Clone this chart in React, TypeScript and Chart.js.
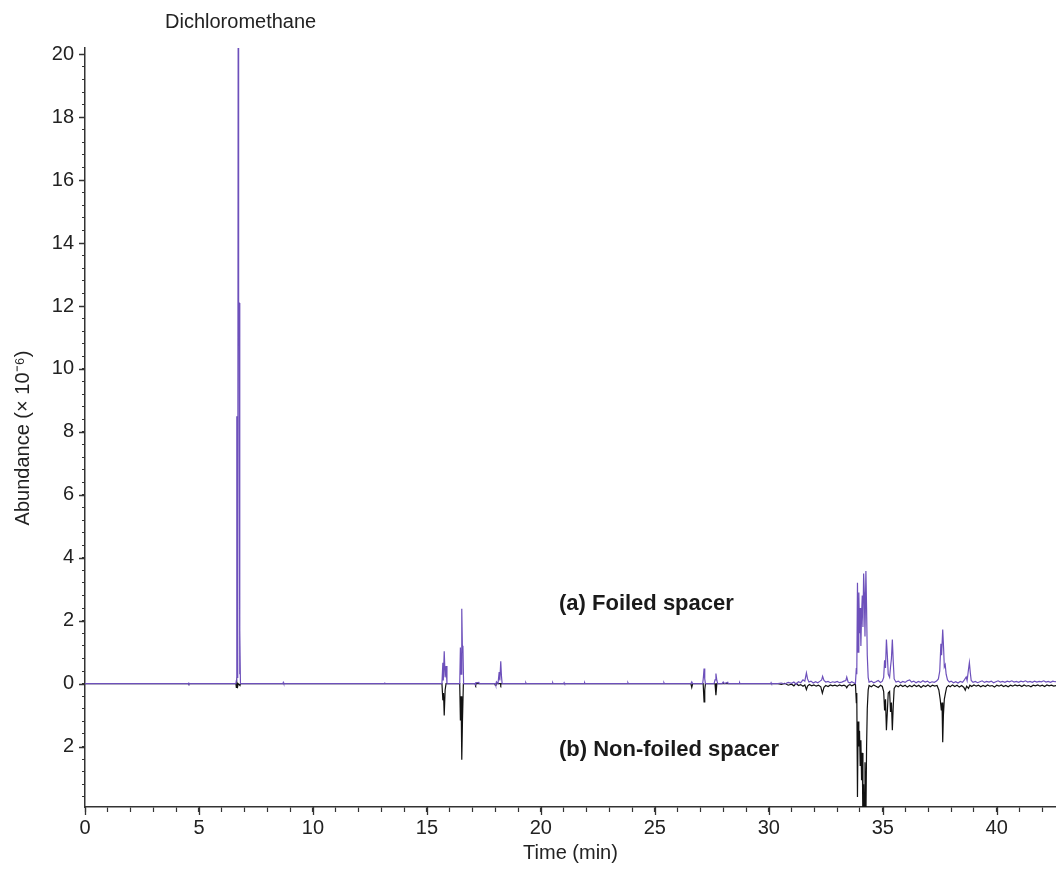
import React, { useEffect, useRef } from "react";
import { Chart, registerables } from "chart.js";

Chart.register(...registerables);

// (a) Foiled spacer — retention time (min) and abundance (× 10^-6)
const foiledTime = [
  0, 4.52, 4.54, 4.56, 4.58,
  6.62, 6.64, 6.66, 6.68, 6.70, 6.72, 6.74, 6.76, 6.78, 6.80, 6.82,
  8.68, 8.70, 8.72, 13.12, 13.14, 13.16,
  15.66, 15.70, 15.72, 15.76, 15.80, 15.84, 15.88,
  16.44, 16.47, 16.50, 16.53, 16.56, 16.58, 16.61,
  17.10, 17.12, 17.14, 17.28, 17.30,
  18.00, 18.02, 18.05, 18.12, 18.17, 18.20, 18.24, 18.27, 18.30,
  19.32, 19.34, 19.36, 20.50, 20.52, 20.54, 21.00, 21.02, 21.04, 21.90, 21.92, 21.94,
  23.80, 23.82, 23.84, 25.38, 25.40, 25.42,
  26.58, 26.62, 26.66, 27.10, 27.13, 27.16, 27.19, 27.22, 27.60, 27.64, 27.68, 27.72, 27.76,
  27.95, 28.00, 28.05, 28.20, 28.22, 28.70, 28.72, 28.74, 30.08, 30.10, 30.12,
  30.40, 30.55, 30.70, 30.85, 31.00, 31.10, 31.20, 31.30, 31.40, 31.50, 31.58, 31.65, 31.70, 31.76, 31.85, 31.95,
  32.05, 32.15, 32.25, 32.32, 32.36, 32.42, 32.50, 32.60, 32.70, 32.80, 32.90, 33.00, 33.10, 33.20, 33.30, 33.38,
  33.42, 33.48, 33.56, 33.64, 33.72, 33.80,
  33.84, 33.86, 33.89, 33.92, 33.95, 33.98, 34.01, 34.04, 34.07, 34.10, 34.13, 34.16, 34.19, 34.22, 34.26, 34.29,
  34.32, 34.36, 34.40, 34.50, 34.60, 34.70, 34.80, 34.90, 34.98, 35.04,
  35.08, 35.12, 35.16, 35.20, 35.24, 35.30, 35.34, 35.38, 35.42, 35.46, 35.50, 35.58, 35.68, 35.78, 35.88, 35.98,
  36.08, 36.18, 36.26, 36.36, 36.46, 36.56, 36.66, 36.76, 36.86, 36.96, 37.06, 37.16, 37.26, 37.36, 37.44,
  37.50, 37.55, 37.58, 37.63, 37.67, 37.70, 37.74, 37.78, 37.84, 37.92, 38.00, 38.10, 38.20, 38.30, 38.40, 38.50,
  38.58, 38.66, 38.70, 38.76, 38.80, 38.84, 38.88, 38.96, 39.06, 39.16, 39.26, 39.36, 39.46, 39.56, 39.66, 39.76,
  39.86, 39.96, 40.06, 40.16, 40.26, 40.36, 40.46, 40.56, 40.66, 40.76, 40.86, 40.96, 41.06, 41.16, 41.26, 41.36,
  41.46, 41.56, 41.66, 41.76, 41.86, 41.96, 42.06, 42.16, 42.26, 42.36, 42.46, 42.56, 42.70,
];
const foiledAbund = [
  0, 0, 0.04, -0.02, 0,
  0, 0.1, 8.5, 0.2, 0.3, 21.5, 12.1, 12.1, 0.3, 1.7, 0,
  0, 0.04, 0, 0, 0.04, 0,
  0, 0.66, 0.1, 1.03, 0.2, 0.56, 0,
  0, 1.15, 0.3, 2.38, 1.0, 1.2, 0,
  0, -0.04, 0.03, 0.04, 0,
  0, -0.05, 0.06, 0, 0.37, 0.1, 0.71, 0.25, 0,
  0, 0.03, 0, 0, 0.03, 0, 0, 0.03, 0, 0, 0.03, 0,
  0, 0.03, 0, 0, 0.03, 0,
  0, 0.06, 0, 0, 0.2, 0.48, 0.15, 0, 0, 0.12, 0.32, 0.1, 0,
  0, 0.05, 0, 0.04, 0, 0, 0.03, 0, 0, 0.03, 0,
  0, 0.02, -0.01, 0.04, 0.01, 0.05, -0.02, 0.06, 0.03, 0.12, 0.08, 0.34, 0.15, 0.05, 0.08, 0.02,
  0.06, 0.03, 0.08, 0.12, 0.23, 0.1, 0.05, 0.07, 0.03, 0.06, 0.04, 0.07, 0.03, 0.05, 0.08, 0.1,
  0.21, 0.05, 0.02, 0.06, 0.03, 0,
  0.5, 0.3, 3.21, 1.0, 2.9, 1.6, 2.4, 1.2, 2.2, 2.8, 1.8, 3.5, 2.9, 1.5, 3.58, 2.4,
  0.9, 0.2, 0.05, 0.08, 0.03, 0.06, 0.1, 0.04, 0.08, 0.2,
  0.74, 0.5, 1.4, 0.9, 0.3, 0.2, 0.53, 0.8, 1.4, 0.7, 0.15, 0.05, 0.08, 0.03, 0.07, 0.04,
  0.09, 0.12, 0.05, 0.08, 0.03, 0.07, 0.04, 0.09, 0.05, 0.08, 0.03, 0.06, 0.04, 0.08, 0.15,
  0.4, 1.27, 0.9, 1.72, 1.1, 0.53, 0.6, 0.3, 0.12, 0.05, 0.08, 0.03, 0.06, 0.02, 0.07, 0.04,
  0.12, 0.21, 0.1, 0.45, 0.67, 0.35, 0.1, 0.04, 0.07, 0.03, 0.06, 0.09, 0.04, 0.07, 0.05, 0.08,
  0.03, 0.06, 0.09, 0.05, 0.07, 0.04, 0.08, 0.06, 0.09, 0.05, 0.07, 0.04, 0.08, 0.06, 0.09, 0.05,
  0.07, 0.04, 0.08, 0.05, 0.07, 0.06, 0.09, 0.05, 0.07, 0.04, 0.08, 0.06, 0.07,
];

// (b) Non-foiled spacer — plotted downward (mirror image)
const nonFoiledTime = [
  0, 4.52, 4.54, 4.56,
  6.62, 6.64, 6.66, 6.70, 6.72, 6.80, 6.82,
  15.66, 15.70, 15.73, 15.76, 15.80, 15.84,
  16.44, 16.47, 16.50, 16.53, 16.56, 16.60,
  17.12, 17.14, 17.16, 17.98, 18.00, 18.03, 18.22, 18.24, 18.26,
  26.58, 26.62, 26.66, 27.12, 27.16, 27.19, 27.22, 27.64, 27.68, 27.72,
  30.40, 30.55, 30.70, 30.85, 31.00, 31.10, 31.20, 31.30, 31.40, 31.50, 31.58, 31.65, 31.70, 31.78, 31.88, 31.98,
  32.08, 32.18, 32.28, 32.35, 32.42, 32.50, 32.60, 32.70, 32.80, 32.90, 33.00, 33.10, 33.20, 33.30, 33.38, 33.42,
  33.48, 33.56, 33.64, 33.72, 33.80,
  33.84, 33.86, 33.89, 33.92, 33.95, 33.98, 34.01, 34.04, 34.07, 34.10, 34.13, 34.16, 34.19, 34.22, 34.26, 34.29,
  34.32, 34.36, 34.40, 34.50, 34.60, 34.70, 34.80, 34.90, 34.98, 35.04,
  35.08, 35.12, 35.16, 35.20, 35.24, 35.30, 35.34, 35.38, 35.42, 35.46, 35.50, 35.58, 35.68, 35.78, 35.88, 35.98,
  36.08, 36.18, 36.28, 36.38, 36.48, 36.58, 36.68, 36.78, 36.88, 36.98, 37.08, 37.18, 37.28, 37.38, 37.46,
  37.52, 37.57, 37.60, 37.63, 37.66, 37.70, 37.75, 37.80, 37.88, 37.96, 38.06, 38.16, 38.26, 38.36, 38.46, 38.56,
  38.62, 38.68, 38.76, 38.82, 38.90, 39.00, 39.10, 39.20, 39.30, 39.40, 39.50, 39.60, 39.70, 39.80, 39.90, 40.00,
  40.10, 40.20, 40.30, 40.40, 40.50, 40.60, 40.70, 40.80, 40.90, 41.00, 41.10, 41.20, 41.30, 41.40, 41.50, 41.60,
  41.70, 41.80, 41.90, 42.00, 42.10, 42.20, 42.30, 42.40, 42.50, 42.70,
];
const nonFoiledAbund = [
  0, 0, -0.02, 0,
  0, -0.12, 0.05, -0.08, 0, -0.06, 0,
  0, -0.53, -0.3, -1.01, -0.2, 0,
  0, -1.17, -0.4, -2.42, -1.2, 0,
  0, -0.04, 0, 0, -0.05, 0, 0, -0.04, 0,
  0, -0.12, 0, 0, -0.58, -0.2, 0, 0, -0.37, 0,
  0, -0.02, 0.01, -0.05, -0.02, -0.07, 0.01, -0.06, -0.03, -0.08, -0.04, -0.19, -0.08, -0.03, -0.07, -0.04,
  -0.08, -0.05, -0.1, -0.3, -0.12, -0.06, -0.09, -0.04, -0.07, -0.05, -0.08, -0.04, -0.07, -0.05, -0.08, -0.13,
  -0.06, -0.03, -0.07, -0.04, 0,
  -0.6, -0.3, -3.6, -1.2, -2.0, -1.5, -2.6, -1.8, -3.07, -2.2, -4.5, -3.2, -4.4, -2.5, -4.3, -2.0,
  -0.8, -0.2, -0.06, -0.1, -0.04, -0.08, -0.12, -0.05, -0.09, -0.25,
  -0.85, -0.5, -1.48, -0.9, -0.3, -0.25, -0.9, -0.6, -1.48, -0.7, -0.15, -0.06, -0.1, -0.04, -0.09, -0.05,
  -0.11, -0.06, -0.1, -0.04, -0.09, -0.05, -0.12, -0.06, -0.09, -0.04, -0.1, -0.05, -0.08, -0.06, -0.2,
  -0.5, -0.85, -0.6, -1.86, -1.0, -0.5, -0.3, -0.12, -0.06, -0.1, -0.04, -0.09, -0.05, -0.11, -0.06, -0.12,
  -0.21, -0.08, -0.15, -0.05, -0.09, -0.04, -0.08, -0.05, -0.1, -0.06, -0.09, -0.04, -0.08, -0.06, -0.11, -0.05,
  -0.08, -0.04, -0.09, -0.06, -0.1, -0.05, -0.08, -0.04, -0.07, -0.05, -0.09, -0.04, -0.08, -0.06, -0.1, -0.05,
  -0.07, -0.04, -0.08, -0.05, -0.09, -0.04, -0.07, -0.05, -0.08, -0.05,
];

const xMin = 0;
const xMax = 42.6;
const xStep = 1;
const xLabelEvery = 5;
const yMin = -3.92;
const yMax = 20.2;
const yStep = 0.4;
const yLabelEvery = 2;

const peakLabel = "Dichloromethane";
const peakLabelTime = 6.74;
const seriesLabels = ["(a) Foiled spacer", "(b) Non-foiled spacer"];
const xTitle = "Time (min)";
const yTitle = "Abundance (× 10⁻⁶)";

const FONT = "'Liberation Sans', Arial, sans-serif";
const PURPLE = "#6d50bb";
const BLACK = "#111111";
const AXIS = "#333333";

const isMultiple = (v: number, m: number) => {
  const r = Math.round(v * 10) / 10;
  return Math.abs(r % m) < 1e-6;
};

const textPlugin = {
  id: "textPlugin",
  afterDraw(chart: any) {
    const ctx = chart.ctx;
    const xs = chart.scales.x;
    const ys = chart.scales.y;
    const area = chart.chartArea;
    ctx.save();
    // longer major ticks
    ctx.strokeStyle = AXIS;
    ctx.lineWidth = 1.3;
    ctx.beginPath();
    xs.ticks.forEach((t: any) => {
      if (isMultiple(t.value, xLabelEvery)) {
        const px = Math.round(xs.getPixelForValue(t.value)) + 0.5;
        ctx.moveTo(px, area.bottom);
        ctx.lineTo(px, area.bottom + 8);
      }
    });
    ys.ticks.forEach((t: any) => {
      if (isMultiple(t.value, yLabelEvery)) {
        const py = Math.round(ys.getPixelForValue(t.value)) + 0.5;
        ctx.moveTo(area.left - 6, py);
        ctx.lineTo(area.left, py);
      }
    });
    ctx.stroke();

    ctx.fillStyle = "#222";
    ctx.textAlign = "center";
    ctx.textBaseline = "middle";
    ctx.font = `20px ${FONT}`;
    ctx.fillText(peakLabel, xs.getPixelForValue(peakLabelTime) + 2, 22);
    ctx.fillText(xTitle, (area.left + area.right) / 2, 853);
    ctx.save();
    ctx.translate(23, 438);
    ctx.rotate(-Math.PI / 2);
    ctx.fillText(yTitle, 0, 0);
    ctx.restore();
    ctx.font = `bold 22px ${FONT}`;
    ctx.textAlign = "left";
    ctx.fillStyle = "#1a1a1a";
    ctx.fillText(seriesLabels[0], 559, 604);
    ctx.fillText(seriesLabels[1], 559, 750);
    ctx.restore();
  },
};

export default function App() {
  const ref = useRef<HTMLCanvasElement | null>(null);
  useEffect(() => {
    if (!ref.current) return;
    const chart = new Chart(ref.current, {
      type: "line",
      data: {
        datasets: [
          {
            label: seriesLabels[1],
            data: nonFoiledTime.map((t, i) => ({ x: t, y: nonFoiledAbund[i] })),
            borderColor: BLACK,
            borderWidth: 1.2,
            pointRadius: 0,
            tension: 0,
            order: 2,
          },
          {
            label: seriesLabels[0],
            data: foiledTime.map((t, i) => ({ x: t, y: foiledAbund[i] })),
            borderColor: PURPLE,
            borderWidth: 1.2,
            pointRadius: 0,
            tension: 0,
            order: 1,
          },
        ],
      },
      options: {
        animation: false,
        responsive: true,
        maintainAspectRatio: false,
        layout: { padding: { top: 48, left: 0, right: 0, bottom: 0 } },
        plugins: { legend: { display: false }, tooltip: { enabled: false } },
        scales: {
          x: {
            type: "linear",
            min: xMin,
            max: xMax,
            afterFit: (s: any) => {
              s.height = 63;
            },
            ticks: {
              stepSize: xStep,
              includeBounds: false,
              autoSkip: false,
              maxRotation: 0,
              padding: 4,
              color: "#222",
              font: { family: FONT, size: 20 },
              callback: (v: any) => (isMultiple(Number(v), xLabelEvery) ? String(Math.round(Number(v))) : ""),
            },
            grid: { drawOnChartArea: false, tickLength: 5, tickColor: AXIS, tickWidth: 1.2 },
            border: { display: true, color: AXIS, width: 1.5 },
          },
          y: {
            type: "linear",
            min: yMin,
            max: yMax,
            afterFit: (s: any) => {
              s.width = 85;
            },
            ticks: {
              stepSize: yStep,
              includeBounds: false,
              autoSkip: false,
              padding: 8,
              color: "#222",
              font: { family: FONT, size: 20 },
              callback: (v: any) => {
                const r = Math.round(Number(v) * 10) / 10;
                return isMultiple(r, yLabelEvery) ? String(Math.abs(r)) : "";
              },
            },
            grid: { drawOnChartArea: false, tickLength: 3, tickColor: AXIS, tickWidth: 1.2 },
            border: { display: true, color: AXIS, width: 1.5 },
          },
        },
      },
      plugins: [textPlugin],
    } as any);
    return () => chart.destroy();
  }, []);
  return (
    <div style={{ position: "absolute", left: 0, top: 0, width: 1056, height: 870, background: "#fff" }}>
      <canvas ref={ref} />
    </div>
  );
}
